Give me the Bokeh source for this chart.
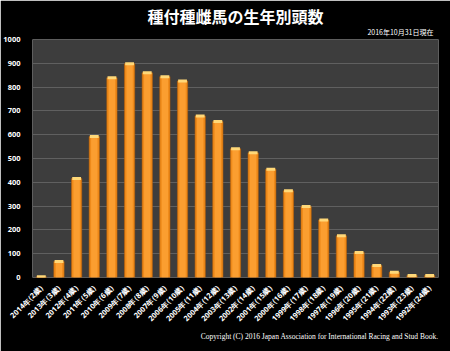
import math
from bokeh.plotting import figure
from bokeh.models import ColumnDataSource, FixedTicker, Title
from bokeh.embed import file_html
from bokeh.resources import INLINE

categories = ["2014年(2歳)", "2013年(3歳)", "2012年(4歳)", "2011年(5歳)", "2010年(6歳)",
              "2009年(7歳)", "2008年(8歳)", "2007年(9歳)", "2006年(10歳)", "2005年(11歳)",
              "2004年(12歳)", "2003年(13歳)", "2002年(14歳)", "2001年(15歳)", "2000年(16歳)",
              "1999年(17歳)", "1998年(18歳)", "1997年(19歳)", "1996年(20歳)", "1995年(21歳)",
              "1994年(22歳)", "1993年(23歳)", "1992年(24歳)"]
counts = [3, 67, 416, 592, 839, 898, 860, 844, 826, 679, 655, 541, 524, 455, 364,
          298, 242, 175, 105, 50, 22, 8, 8]
y_ticks = [0, 100, 200, 300, 400, 500, 600, 700, 800, 900, 1000]
title_text = "種付種雌馬の生年別頭数"
subtitle_text = "2016年10月31日現在"
copyright_text = "Copyright (C) 2016 Japan Association for International Racing and Stud Book."

src = ColumnDataSource(dict(cat=categories, n=counts))

p = figure(width=450, height=351, x_range=categories, y_range=(0, 1000),
           output_backend="svg", toolbar_location=None,
           background_fill_color="#3d3d3d", border_fill_color="black",
           min_border_left=30, min_border_right=12, min_border_top=10, min_border_bottom=10)
p.outline_line_color = None

# outermost spacer (the built-in title slot)
p.title.text = " "
p.title.text_font_size = "4px"
p.title.standoff = 0

sub = Title(text=subtitle_text, align="right", text_color="white",
            text_font="Noto Sans CJK JP", text_font_style="normal",
            text_font_size="7px", standoff=6, offset=5)
p.add_layout(sub, "above")

main = Title(text=title_text, align="center", text_color="white",
             text_font="Noto Sans CJK JP", text_font_style="bold",
             text_font_size="16px", standoff=-12)
p.add_layout(main, "above")

cp = Title(text=copyright_text, align="right", text_color="white",
           text_font="Liberation Serif", text_font_style="normal",
           text_font_size="7.5px", standoff=0)
p.add_layout(cp, "below")
spacer_b = Title(text=" ", text_font_size="8px", standoff=0)
p.add_layout(spacer_b, "below")

p.vbar(x="cat", top="n", width=0.58, source=src, fill_color="#ee8a1a", line_color="#b86008", line_width=0.6)
p.vbar(x="cat", top="n", width=0.36, source=src, fill_color="#fb9e30", line_color=None)
p.rect(x="cat", y="n", width=0.5, height=3, height_units="screen", source=src,
       fill_color="#ffd878", line_color=None)

p.xgrid.grid_line_color = None
p.ygrid.grid_line_color = "#606060"
p.ygrid.grid_line_width = 1
p.yaxis.ticker = FixedTicker(ticks=y_ticks)

for ax in (p.xaxis, p.yaxis):
    ax.axis_line_color = None
    ax.major_tick_line_color = None
    ax.minor_tick_line_color = None
    ax.major_label_text_color = "white"
    ax.major_label_text_font = "Noto Sans"
    ax.major_label_text_font_style = "bold"
    ax.major_label_text_font_size = "7.5px"
p.yaxis.major_label_standoff = 6
p.xaxis.major_label_orientation = math.pi / 4
p.xaxis.major_label_standoff = 3

open("out.html", "w").write(file_html(p, INLINE))
